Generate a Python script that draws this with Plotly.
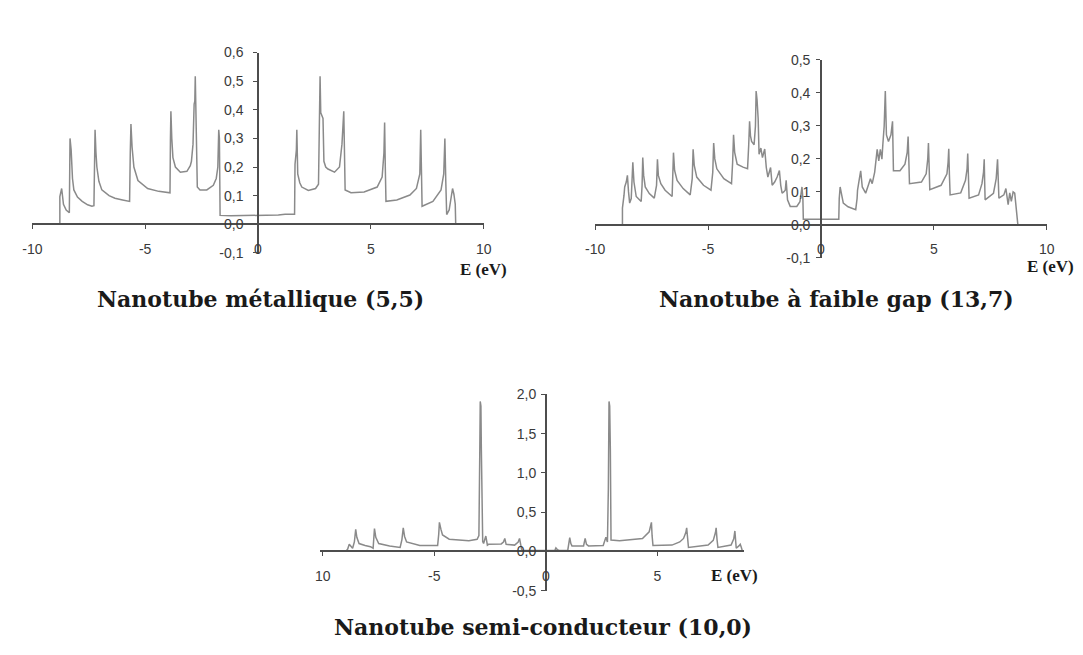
import plotly.graph_objects as go

# ---------------------------------------------------------------------------
# Densité d'états (DOS) en fonction de l'énergie E (eV) pour trois nanotubes
# ---------------------------------------------------------------------------

# Nanotube métallique (5,5)
e_55 = [-8.78, -8.78, -8.70, -8.62, -8.50, -8.40, -8.36, -8.33, -8.28, -8.22,
        -8.16, -8.00, -7.79, -7.55, -7.36, -7.27, -7.25, -7.22, -7.18, -7.14,
        -7.05, -6.92, -6.60, -6.34, -6.00, -5.69, -5.66, -5.63, -5.58, -5.50,
        -5.32, -4.89, -4.40, -3.90, -3.88, -3.86, -3.82, -3.77, -3.66, -3.44,
        -3.15, -3.00, -2.95, -2.88, -2.83, -2.80, -2.78, -2.75, -2.72, -2.69,
        -2.57, -2.27, -1.98, -1.85, -1.78, -1.74, -1.71, -1.68, -1.20, 0.00,
        0.90, 1.20, 1.60, 1.62, 1.64, 1.70, 1.72, 1.74, 1.76, 1.85,
        1.94, 2.23, 2.55, 2.68, 2.72, 2.75, 2.78, 2.88, 2.92, 3.00,
        3.10, 3.39, 3.61, 3.72, 3.80, 3.84, 3.86, 4.12, 4.70, 5.28,
        5.50, 5.58, 5.61, 5.64, 5.67, 6.15, 6.73, 7.02, 7.17, 7.21,
        7.24, 7.27, 7.75, 8.11, 8.23, 8.28, 8.32, 8.36, 8.47, 8.58,
        8.62, 8.68, 8.74, 8.76]
dos_55 = [0.000, 0.097, 0.125, 0.070, 0.050, 0.040, 0.040, 0.300, 0.260, 0.160,
          0.120, 0.095, 0.080, 0.068, 0.063, 0.065, 0.200, 0.330, 0.250, 0.200,
          0.150, 0.120, 0.100, 0.091, 0.085, 0.080, 0.250, 0.350, 0.270, 0.200,
          0.153, 0.125, 0.115, 0.110, 0.300, 0.395, 0.300, 0.233, 0.200, 0.182,
          0.185, 0.205, 0.220, 0.280, 0.420, 0.430, 0.517, 0.400, 0.250, 0.130,
          0.120, 0.120, 0.136, 0.160, 0.200, 0.330, 0.300, 0.031, 0.030, 0.030,
          0.032, 0.035, 0.035, 0.035, 0.210, 0.260, 0.330, 0.250, 0.176, 0.145,
          0.130, 0.118, 0.125, 0.140, 0.300, 0.517, 0.390, 0.370, 0.220, 0.200,
          0.193, 0.182, 0.200, 0.280, 0.395, 0.250, 0.120, 0.110, 0.113, 0.130,
          0.165, 0.250, 0.356, 0.200, 0.080, 0.085, 0.102, 0.125, 0.176, 0.330,
          0.150, 0.063, 0.080, 0.120, 0.176, 0.300, 0.150, 0.034, 0.050, 0.100,
          0.125, 0.105, 0.070, 0.000]

# Nanotube à faible gap (13,7)
e_137 = [-8.79, -8.79, -8.72, -8.69, -8.62, -8.57, -8.52, -8.47, -8.40, -8.36,
         -8.33, -8.28, -8.18, -7.96, -7.92, -7.89, -7.85, -7.78, -7.60, -7.38,
         -7.28, -7.24, -7.20, -7.09, -6.90, -6.59, -6.56, -6.53, -6.48, -6.37,
         -6.10, -5.79, -5.70, -5.66, -5.61, -5.50, -5.20, -4.87, -4.79, -4.75,
         -4.70, -4.61, -4.30, -3.96, -3.91, -3.87, -3.82, -3.71, -3.45, -3.25,
         -3.20, -3.16, -3.12, -3.07, -2.96, -2.90, -2.87, -2.83, -2.78, -2.74,
         -2.66, -2.59, -2.49, -2.42, -2.35, -2.27, -2.23, -2.16, -2.05, -1.94,
         -1.84, -1.78, -1.72, -1.65, -1.58, -1.54, -1.51, -1.48, -1.36, -1.07,
         -0.93, -0.86, -0.84, -0.80, -0.78, 0.00, 0.79, 0.81, 0.85, 0.92,
         0.99, 1.20, 1.54, 1.60, 1.62, 1.69, 1.76, 1.83, 1.98, 2.12,
         2.19, 2.27, 2.38, 2.49, 2.56, 2.63, 2.70, 2.74, 2.80, 2.85,
         2.88, 2.90, 2.99, 3.10, 3.17, 3.19, 3.21, 3.50, 3.72, 3.82,
         3.86, 3.89, 3.92, 4.45, 4.66, 4.73, 4.76, 4.79, 4.82, 5.32,
         5.58, 5.63, 5.66, 5.69, 5.72, 6.19, 6.40, 6.47, 6.50, 6.53,
         6.56, 6.98, 7.13, 7.20, 7.23, 7.25, 7.27, 7.64, 7.76, 7.82,
         7.85, 7.88, 8.10, 8.19, 8.29, 8.36, 8.43, 8.51, 8.58, 8.65,
         8.72]
dos_137 = [0.000, 0.051, 0.090, 0.115, 0.130, 0.150, 0.100, 0.066, 0.080, 0.150,
           0.190, 0.130, 0.086, 0.071, 0.120, 0.204, 0.150, 0.115, 0.095, 0.081,
           0.120, 0.199, 0.150, 0.125, 0.105, 0.086, 0.140, 0.219, 0.165, 0.135,
           0.110, 0.091, 0.140, 0.229, 0.180, 0.145, 0.120, 0.105, 0.160, 0.248,
           0.200, 0.170, 0.140, 0.125, 0.190, 0.273, 0.220, 0.184, 0.175, 0.170,
           0.240, 0.314, 0.270, 0.253, 0.243, 0.300, 0.406, 0.380, 0.322, 0.214,
           0.233, 0.204, 0.230, 0.174, 0.145, 0.165, 0.174, 0.120, 0.130, 0.145,
           0.165, 0.120, 0.096, 0.100, 0.105, 0.135, 0.090, 0.076, 0.056, 0.056,
           0.070, 0.100, 0.115, 0.080, 0.017, 0.017, 0.017, 0.080, 0.115, 0.090,
           0.066, 0.055, 0.046, 0.080, 0.105, 0.135, 0.164, 0.115, 0.096, 0.125,
           0.140, 0.125, 0.160, 0.229, 0.194, 0.229, 0.199, 0.243, 0.300, 0.406,
           0.330, 0.273, 0.253, 0.273, 0.314, 0.250, 0.164, 0.164, 0.184, 0.220,
           0.268, 0.200, 0.125, 0.130, 0.155, 0.200, 0.248, 0.180, 0.107, 0.120,
           0.155, 0.190, 0.231, 0.150, 0.091, 0.097, 0.135, 0.170, 0.216, 0.150,
           0.081, 0.091, 0.125, 0.160, 0.199, 0.130, 0.076, 0.096, 0.140, 0.199,
           0.130, 0.081, 0.091, 0.110, 0.061, 0.097, 0.071, 0.100, 0.096, 0.041,
           0.000]

# Nanotube semi-conducteur (10,0)
e_100 = [-8.96, -8.88, -8.81, -8.72, -8.66, -8.58, -8.52, -8.47, -8.37, -8.10,
         -7.86, -7.74, -7.71, -7.68, -7.62, -7.49, -7.00, -6.53, -6.45, -6.39,
         -6.33, -6.24, -5.65, -4.85, -4.80, -4.77, -4.70, -4.63, -4.33, -3.45,
         -3.08, -3.00, -2.96, -2.94, -2.91, -2.89, -2.86, -2.83, -2.79, -2.69,
         -2.62, -2.57, -2.00, -1.90, -1.84, -1.78, -1.40, -1.24, -1.18, -1.12,
         -1.08, 0.40, 0.45, 0.52, 0.60, 0.98, 1.03, 1.07, 1.12, 1.17,
         1.69, 1.73, 1.76, 1.82, 1.91, 2.57, 2.65, 2.69, 2.76, 2.80,
         2.83, 2.86, 2.89, 2.91, 2.92, 3.30, 4.00, 4.33, 4.63, 4.70,
         4.73, 4.76, 4.80, 5.65, 6.00, 6.17, 6.27, 6.31, 6.35, 6.39,
         7.27, 7.50, 7.60, 7.63, 7.67, 7.71, 8.30, 8.42, 8.47, 8.50,
         8.53, 8.65, 8.71, 8.76, 8.81]
dos_100 = [0.000, 0.030, 0.090, 0.060, 0.040, 0.120, 0.280, 0.180, 0.100, 0.075,
           0.060, 0.040, 0.180, 0.290, 0.180, 0.100, 0.070, 0.050, 0.150, 0.300,
           0.190, 0.120, 0.075, 0.075, 0.220, 0.370, 0.280, 0.210, 0.155, 0.137,
           0.155, 0.200, 1.290, 1.910, 1.850, 1.290, 0.500, 0.125, 0.100, 0.195,
           0.080, 0.090, 0.095, 0.120, 0.165, 0.090, 0.080, 0.120, 0.165, 0.060,
           0.015, 0.010, 0.045, 0.020, 0.012, 0.012, 0.100, 0.175, 0.100, 0.070,
           0.070, 0.130, 0.165, 0.090, 0.070, 0.075, 0.130, 0.180, 0.120, 0.800,
           1.910, 1.850, 1.290, 0.500, 0.145, 0.137, 0.150, 0.165, 0.250, 0.330,
           0.370, 0.200, 0.075, 0.080, 0.120, 0.165, 0.240, 0.300, 0.150, 0.050,
           0.080, 0.140, 0.240, 0.300, 0.150, 0.050, 0.080, 0.160, 0.260, 0.120,
           0.040, 0.070, 0.090, 0.050, 0.000]

# Axis ticks and labels (decimal comma)
x_ticks = [-10, -5, 0, 5, 10]
x_labels = ["-10", "-5", "0", "5", "10"]
x_ticks_100 = [-10, -5, 0, 5]
x_labels_100 = ["10", "-5", "0", "5"]
y_ticks_55 = [-0.1, 0.0, 0.1, 0.2, 0.3, 0.4, 0.5, 0.6]
y_labels_55 = ["-0,1", "0,0", "0,1", "0,2", "0,3", "0,4", "0,5", "0,6"]
y_ticks_137 = [-0.1, 0.0, 0.1, 0.2, 0.3, 0.4, 0.5]
y_labels_137 = ["-0,1", "0,0", "0,1", "0,2", "0,3", "0,4", "0,5"]
y_ticks_100 = [-0.5, 0.0, 0.5, 1.0, 1.5, 2.0]
y_labels_100 = ["-0,5", "0,0", "0,5", "1,0", "1,5", "2,0"]

titles = ["Nanotube métallique (5,5)",
          "Nanotube à faible gap (13,7)",
          "Nanotube semi-conducteur (10,0)"]
axis_title = "E (eV)"

# ---------------------------------------------------------------------------
W, H = 1083, 655
CURVE = "#8a8a8a"
AXIS = "#4d4d4d"
TICKFONT = dict(family="Liberation Sans, Arial, sans-serif", size=14, color="#3a3a3a")
SERIF = "DejaVu Serif, Liberation Serif, serif"

# plotting boxes in pixels: left, right, top, bottom
panels = [
    dict(box=(22.7, 481.7, 45.7, 251.0), xr=[-10, 10], yr=[-0.1, 0.6],
         xt=(x_ticks, x_labels), yt=(y_ticks_55, y_labels_55), ystand=7),
    dict(box=(595.0, 1054.3, 53.3, 256.1), xr=[-10, 10], yr=[-0.1, 0.5],
         xt=(x_ticks, x_labels), yt=(y_ticks_137, y_labels_137), ystand=3),
    dict(box=(315.7, 746.9, 396.0, 597.25), xr=[-10.1, 8.9], yr=[-0.5, 2.0],
         xt=(x_ticks_100, x_labels_100), yt=(y_ticks_100, y_labels_100), ystand=2),
]
series = [(e_55, dos_55), (e_137, dos_137), (e_100, dos_100)]

fig = go.Figure()
layout = dict(
    width=W, height=H, autosize=False,
    margin=dict(l=0, r=0, t=0, b=0),
    paper_bgcolor="white", plot_bgcolor="white",
    showlegend=False,
)

for i, (p, (ex, dy)) in enumerate(zip(panels, series), start=1):
    sfx = "" if i == 1 else str(i)
    l, r, t, b = p["box"]
    xd = [l / W, r / W]
    yd = [1 - b / H, 1 - t / H]
    x0, x1 = p["xr"]
    y0, y1 = p["yr"]
    # axes cross at the origin
    xpos = yd[0] + (yd[1] - yd[0]) * (0 - y0) / (y1 - y0)
    ypos = xd[0] + (xd[1] - xd[0]) * (0 - x0) / (x1 - x0)

    fig.add_trace(go.Scatter(
        x=ex, y=dy, mode="lines", xaxis="x" + sfx, yaxis="y" + sfx,
        line=dict(color=CURVE, width=1.5), hoverinfo="skip"))

    layout["xaxis" + sfx] = dict(
        domain=xd, range=p["xr"], anchor="free", position=xpos,
        showline=True, linecolor=AXIS, linewidth=1.5,
        ticks="outside", ticklen=4, tickwidth=1.3, tickcolor=AXIS,
        tickvals=p["xt"][0], ticktext=p["xt"][1], tickfont=TICKFONT,
        ticklabelstandoff=8,
        showgrid=False, zeroline=False, fixedrange=True)
    layout["yaxis" + sfx] = dict(
        domain=yd, range=p["yr"], anchor="free", position=ypos,
        showline=True, linecolor=AXIS, linewidth=1.5,
        ticks="outside", ticklen=4, tickwidth=1.3, tickcolor=AXIS,
        tickvals=p["yt"][0], ticktext=p["yt"][1], tickfont=TICKFONT,
        ticklabelstandoff=p["ystand"],
        showgrid=False, zeroline=False, fixedrange=True)

fig.update_layout(**layout)

# panel captions
title_pos = [(255, 298), (840, 298), (541.5, 634)]
for txt, (cx, cy) in zip(titles, title_pos):
    fig.add_annotation(text="<b>" + txt + "</b>", x=cx / W, y=1 - cy / H,
                       xref="paper", yref="paper", showarrow=False,
                       xanchor="center", yanchor="middle",
                       font=dict(family=SERIF, size=22, color="#1a1a1a"))

# energy axis labels
elabel_pos = [(481.7, 268), (1058, 265), (736.7, 581.7)]
for cx, cy in elabel_pos:
    fig.add_annotation(text="<b>" + axis_title + "</b>", x=cx / W, y=1 - cy / H,
                       xref="paper", yref="paper", showarrow=False,
                       xanchor="center", yanchor="middle", bgcolor="white",
                       font=dict(family="Liberation Serif, serif", size=17,
                                 color="#1a1a1a"))

fig.write_html("out.html")
